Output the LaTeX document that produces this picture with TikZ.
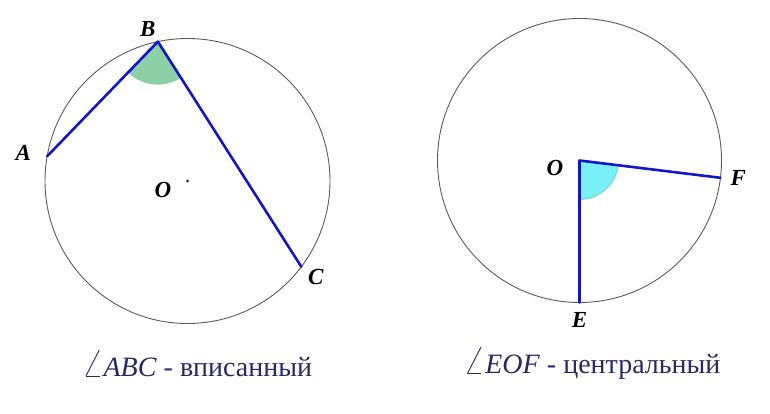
\documentclass[tikz,border=0pt]{standalone}
\usepackage{fontspec}
\setmainfont{Liberation Serif}
\usetikzlibrary{positioning,calc}

\definecolor{chordblue}{RGB}{20,20,200}
\definecolor{ringgray}{RGB}{90,90,90}
\definecolor{mintfill}{RGB}{140,208,165}
\definecolor{cyanfill}{RGB}{120,240,245}
\definecolor{cyanedge}{RGB}{90,200,200}
\definecolor{navytext}{RGB}{40,40,100}

\newcommand{\angsign}{\scalebox{1.35}{$\angle$}}

\tikzset{
  ring/.style={draw=ringgray, line width=0.9pt},
  chord/.style={draw=chordblue, line width=2.6pt, line cap=round, line join=round},
  ptlabel/.style={font=\fontsize{23}{23}\selectfont\bfseries\itshape, inner sep=1pt},
  caption/.style={font=\fontsize{28}{28}\selectfont, text=navytext, inner sep=0pt}
}

\begin{document}
\begin{tikzpicture}[x=1pt, y=-1pt]
  \useasboundingbox (0,0) rectangle (770,414);

  % inscribed angle ABC
  \coordinate (O1) at (187.5,181);
  \coordinate (A) at ($(O1)+(-170:142.5)$);
  \coordinate (B) at ($(O1)+(-102:142.5)$);
  \coordinate (C) at ($(O1)+(37:142.5)$);

  \begin{scope}
    \clip (B) -- (A) -- (C) -- cycle;
    \fill[mintfill] (B) circle (43pt);
  \end{scope}
  \draw[ring] (O1) circle (142.5pt);
  \draw[chord] (A) -- (B) -- (C);
  \fill (O1) circle (1.3pt);

  \node[ptlabel, left=15pt of A, yshift=3pt] (labA) {A};
  \node[ptlabel, above=4pt of B, xshift=-10pt] (labB) {B};
  \node[ptlabel, below right=1.5pt and 5.5pt of C] (labC) {C};
  \node[ptlabel, left=15pt of O1, yshift=-9pt] (labO1) {O};

  % central angle EOF
  \coordinate (O2) at (579.5,160.5);
  \coordinate (E) at ($(O2)+(90:142)$);
  \coordinate (F) at ($(O2)+(7:142)$);

  \begin{scope}
    \clip (O2) -- (E) -- (F) -- cycle;
    \fill[cyanfill, draw=cyanedge, line width=0.6pt] (O2) circle (39pt);
  \end{scope}
  \draw[ring] (O2) circle (142pt);
  \draw[chord] (E) -- (O2) -- (F);

  \node[ptlabel, left=15pt of O2, yshift=-7.5pt] (labO2) {O};
  \node[ptlabel, right=9pt of F] (labF) {F};
  \node[ptlabel, below=9pt of E] (labE) {E};

  % captions
  \node[caption] (capL) at (197,364) {\angsign\textit{ABC} - вписанный};
  \node[caption] (capR) at (592,364) {\angsign\textit{EOF} - центральный};
\end{tikzpicture}
\end{document}
